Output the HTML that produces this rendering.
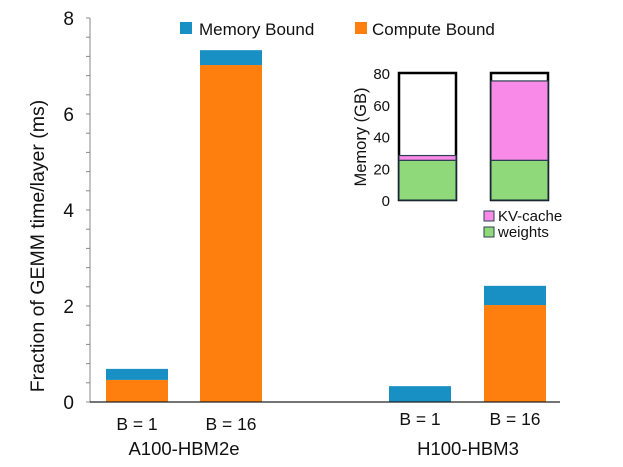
<!DOCTYPE html>
<html><head><meta charset="utf-8"><style>
body{margin:0;background:#fff;}
svg{display:block;font-family:"Liberation Sans",Arial,sans-serif;}
</style></head><body>
<svg id="c" width="623" height="467"></svg>
<script>
const categories=["B = 1","B = 16","B = 1","B = 16"];
const computeVals=[0.46,7.02,0,2.02];
const memoryVals=[0.23,0.31,0.33,0.40];
const yTicks=[0,2,4,6,8];
const groups=["A100-HBM2e","H100-HBM3"];
const insetWeights=[25,25];
const insetKV=[3,50];
const insetTicks=[0,20,40,60,80];
const insetCap=80;

const NS="http://www.w3.org/2000/svg";
const svg=document.getElementById('c');
function mk(t,a,p){const e=document.createElementNS(NS,t);for(const k in a)e.setAttribute(k,a[k]);(p||svg).appendChild(e);return e;}
const y=v=>402-v*48;
const barX=[106,200,389,484],barW=62;
let ax=mk('line',{x1:90,y1:18,x2:90,y2:402,stroke:'#888','stroke-width':1});


for(let v=0;v<=8.001;v+=0.4){mk('line',{x1:86,x2:90,y1:y(v),y2:y(v),stroke:'#888'});}
yTicks.forEach(t=>{const e=mk('text',{x:74,y:y(t)+7,'text-anchor':'end','font-size':19,fill:'#111'});e.textContent=t;

});
let yt=mk('text',{transform:'translate(44,246) rotate(-90)','text-anchor':'middle','font-size':19.5,fill:'#111'});yt.textContent='Fraction of GEMM time/layer (ms)';


categories.forEach((c,i)=>{
 const x=barX[i];
 if(computeVals[i]>0){const r=mk('rect',{x:x,y:y(computeVals[i]),width:barW,height:computeVals[i]*48,fill:'#ff7f0e'});
 
 }
 const m=mk('rect',{x:x,y:y(computeVals[i]+memoryVals[i]),width:barW,height:memoryVals[i]*48,fill:'#1890c4'});
 
 
 const t=mk('text',{x:x+barW/2,y:i<2?430:425,'text-anchor':'middle','font-size':17.5,fill:'#111'});t.textContent=c;
 
 
});
let bl=mk('line',{x1:90,y1:402,x2:560,y2:402,stroke:'#222','stroke-width':1.2});


[[184,groups[0]],[468,groups[1]]].forEach(([cx,g])=>{const t=mk('text',{x:cx,y:455,'text-anchor':'middle','font-size':18.5,fill:'#111'});t.textContent=g;

});
let l1=mk('rect',{x:180,y:22,width:12,height:12,fill:'#1890c4'});


let l1t=mk('text',{x:199,y:35,'font-size':17,fill:'#111'});l1t.textContent='Memory Bound';


let l2=mk('rect',{x:355,y:22,width:12,height:12,fill:'#ff7f0e'});


let l2t=mk('text',{x:372,y:35,'font-size':17,fill:'#111'});l2t.textContent='Compute Bound';


const iy=v=>200-v*1.5875;
const ix=[399,491],iw=57;
insetTicks.forEach(t=>{const e=mk('text',{x:390,y:iy(t)+6,'text-anchor':'end','font-size':15,fill:'#111'});e.textContent=t;

});
let it=mk('text',{transform:'translate(366,137) rotate(-90)','text-anchor':'middle','font-size':16.5,fill:'#111'});it.textContent='Memory (GB)';


ix.forEach((x,i)=>{
 const o=mk('rect',{x:x,y:iy(insetCap),width:iw,height:insetCap*1.5875,fill:'#fff',stroke:'#000','stroke-width':2.5});
 
 
 const w=mk('rect',{x:x,y:iy(insetWeights[i]),width:iw,height:insetWeights[i]*1.5875,fill:'#8fd97a',stroke:'#2b4150','stroke-width':1.2});
 
 
 const k=mk('rect',{x:x,y:iy(insetWeights[i]+insetKV[i]),width:iw,height:insetKV[i]*1.5875,fill:'#f98ae8',stroke:'#2b4150','stroke-width':1.2});
 
 
});
let k1=mk('rect',{x:484,y:211,width:10,height:10,fill:'#f98ae8',stroke:'#2b4150','stroke-width':1});


let k1t=mk('text',{x:498,y:221,'font-size':15,fill:'#111'});k1t.textContent='KV-cache';


let k2=mk('rect',{x:484,y:227,width:10,height:10,fill:'#8fd97a',stroke:'#2b4150','stroke-width':1});


let k2t=mk('text',{x:498,y:237,'font-size':15,fill:'#111'});k2t.textContent='weights';


</script>
</body></html>
